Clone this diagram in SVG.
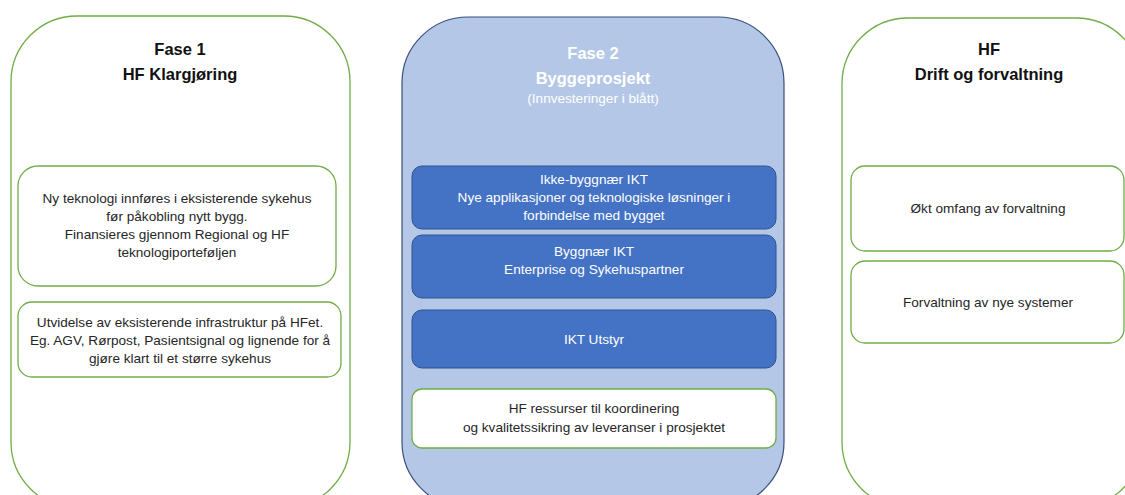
<svg xmlns="http://www.w3.org/2000/svg" width="1125" height="495" viewBox="0 0 1125 495">
<style>
.panel{fill:#fff;stroke:#70AD47;stroke-width:1.3}
.mid{fill:#B4C7E7;stroke:#3B4E78;stroke-width:1.2}
.box{fill:#fff;stroke:#70AD47;stroke-width:1.3}
.blue{fill:#4472C4;stroke:#2F528F;stroke-width:1}
text{font-family:"Liberation Sans",Arial,sans-serif;text-anchor:middle}
.t{font-size:16.5px;font-weight:bold;fill:#111}
.tw{font-size:16.5px;font-weight:bold;fill:#fff}
.s{font-size:13.6px;fill:#262626}
.sw{font-size:13.6px;fill:#fff}
</style>
<rect width="1125" height="495" fill="#fff"/>
<g id="fase1">
<rect class="panel" x="11" y="16" width="339" height="492" rx="66"/>
<text class="t" x="180" y="55">Fase 1</text>
<text class="t" x="180" y="80">HF Klargjøring</text>
</g>
<g id="fase1-box1">
<rect class="box" x="18" y="166" width="318" height="120" rx="20"/>
<text class="s" x="177" y="203">Ny teknologi innføres i eksisterende sykehus</text>
<text class="s" x="177" y="221">før påkobling nytt bygg.</text>
<text class="s" x="177" y="239">Finansieres gjennom Regional og HF</text>
<text class="s" x="177" y="257">teknologiporteføljen</text>
</g>
<g id="fase1-box2">
<rect class="box" x="18" y="302" width="323" height="75" rx="14"/>
<text class="s" x="180" y="327">Utvidelse av eksisterende infrastruktur på HFet.</text>
<text class="s" x="180" y="345">Eg. AGV, Rørpost, Pasientsignal og lignende for å</text>
<text class="s" x="180" y="363">gjøre klart til et større sykehus</text>
</g>
<g id="fase2">
<rect class="mid" x="402" y="17" width="382" height="491" rx="66"/>
<text class="tw" x="593" y="59">Fase 2</text>
<text class="tw" x="593" y="84">Byggeprosjekt</text>
<text class="sw" x="593" y="103">(Innvesteringer i blått)</text>
</g>
<g id="fase2-ikke-byggnaer">
<rect class="blue" x="412" y="166" width="364" height="63" rx="10"/>
<text class="sw" x="594" y="184">Ikke-byggnær IKT</text>
<text class="sw" x="594" y="202">Nye applikasjoner og teknologiske løsninger i</text>
<text class="sw" x="594" y="220">forbindelse med bygget</text>
</g>
<g id="fase2-byggnaer">
<rect class="blue" x="412" y="235" width="364" height="63" rx="10"/>
<text class="sw" x="594" y="256">Byggnær IKT</text>
<text class="sw" x="594" y="274">Enterprise og Sykehuspartner</text>
</g>
<g id="fase2-utstyr">
<rect class="blue" x="412" y="310" width="364" height="58" rx="10"/>
<text class="sw" x="594" y="344">IKT Utstyr</text>
</g>
<g id="fase2-hf">
<rect class="box" x="412" y="389" width="364" height="59" rx="10"/>
<text class="s" x="594" y="413">HF ressurser til koordinering</text>
<text class="s" x="594" y="432">og kvalitetssikring av leveranser i prosjektet</text>
</g>
<g id="hf">
<rect class="panel" x="842" y="18" width="300" height="490" rx="66"/>
<text class="t" x="989" y="55">HF</text>
<text class="t" x="989" y="80">Drift og forvaltning</text>
</g>
<g id="hf-box1">
<rect class="box" x="851" y="166" width="273" height="85" rx="14"/>
<text class="s" x="988" y="213">Økt omfang av forvaltning</text>
</g>
<g id="hf-box2">
<rect class="box" x="851" y="261" width="273" height="82" rx="14"/>
<text class="s" x="988" y="307">Forvaltning av nye systemer</text>
</g>
<g id="connectors"></g>
</svg>
